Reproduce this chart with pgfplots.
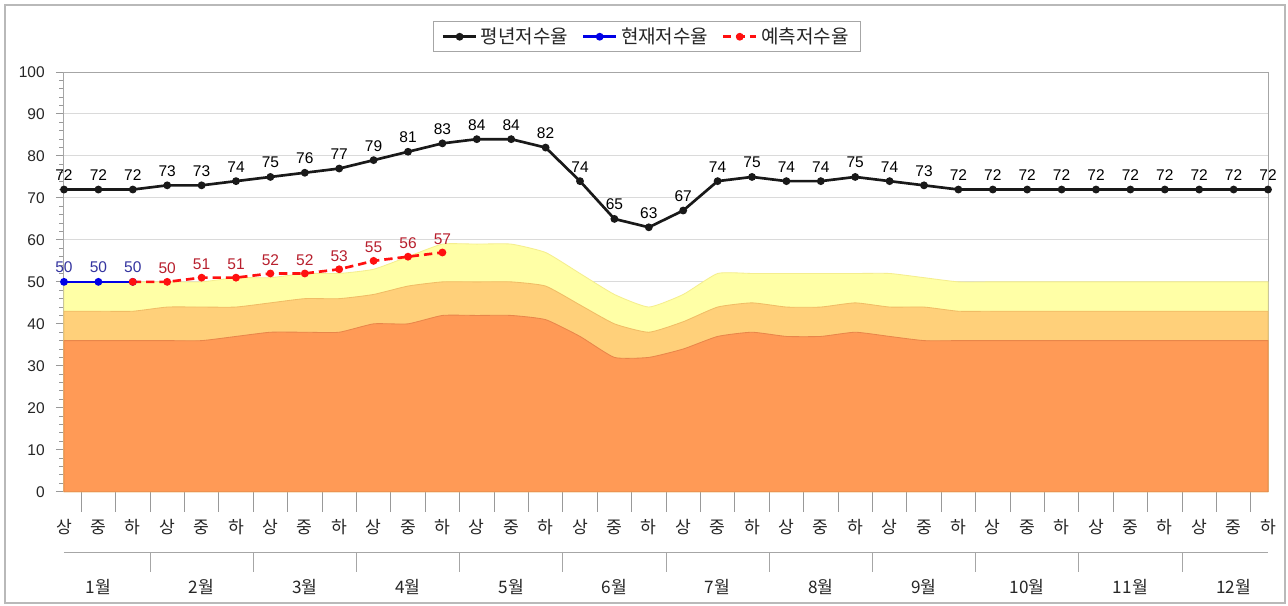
\documentclass[border=0pt]{standalone}
\usepackage{fontspec}
\setmainfont{Liberation Sans}
\newfontfamily\kr{Noto Sans CJK KR}
\usepackage{pgfplots}
\pgfplotsset{compat=1.18}
\definecolor{cOrange}{HTML}{FF9A56}
\definecolor{cOrangeE}{HTML}{E8864A}
\definecolor{cMid}{HTML}{FFD07A}
\definecolor{cMidE}{HTML}{F0BC66}
\definecolor{cYel}{HTML}{FFFFA6}
\definecolor{cYelE}{HTML}{F5EE8E}
\definecolor{cGrid}{HTML}{DADADA}
\definecolor{cBlueLab}{HTML}{3535A0}
\definecolor{cRedLab}{HTML}{B8202E}
\definecolor{cBlue}{HTML}{0000E6}
\definecolor{cRed}{HTML}{FF1010}
\pgfplotsset{/pgf/number format/assume math mode=true}
\begin{document}
\begin{tikzpicture}
\useasboundingbox (0,0) rectangle (772.8pt,363.6pt);
\fill[white] (0,0) rectangle (772.8pt,363.6pt);
\draw[gray!55, line width=0.8pt] (3pt,1.8pt) rectangle (771pt,360.6pt);
\begin{axis}[
  at={(38.4pt,68.58pt)}, anchor=origin,
  scale only axis, width=722.4pt, height=251.8pt,
  xmin=0, xmax=35, ymin=0, ymax=100,
  clip=false,
  axis line style={gray!70, line width=0.6pt},
  ytick={0,10,...,100}, minor y tick num=4,
  ytick align=outside, ytick pos=left,
  major tick length=4.8pt, minor tick length=2.8pt,
  tick style={gray!80, line width=0.6pt},
  ymajorgrids, major grid style={cGrid, line width=0.6pt},
  yticklabel style={font=\fontsize{9.3}{10}\selectfont, text=black!85, anchor=east, inner sep=0pt, xshift=-6.6pt},
  xtick={0,...,35},
  xticklabels={상,중,하,상,중,하,상,중,하,상,중,하,상,중,하,상,중,하,상,중,하,상,중,하,상,중,하,상,중,하,상,중,하,상,중,하},
  xticklabel style={font=\kr\fontsize{10.3}{12}\selectfont, text=black!85, anchor=center, inner sep=0pt, yshift=-21.2pt},
  xtick style={draw=none},
  xtick pos=bottom,
  extra x ticks={0.5,1.5,...,34.5}, extra x tick labels={},
  extra x tick style={xtick align=outside, major tick length=12pt, xtick style={draw=gray!80, line width=0.6pt}, grid=none},
  legend columns=3,
  legend style={at={(0.484,1)}, anchor=south, yshift=12pt, draw=gray!70, fill=white,
    font=\kr\fontsize{11.4}{13}\selectfont, text=black!85, inner xsep=5pt, inner ysep=1.5pt,
    /tikz/every even column/.append style={column sep=6pt}},
  legend image code/.code={\draw[mark repeat=2,mark phase=2,#1] plot coordinates {(0pt,0pt) (10pt,0pt) (20pt,0pt)};},
  every node near coord/.append style={font=\fontsize{9.3}{10}\selectfont, anchor=south, inner sep=0pt, yshift=4.5pt},
]
% threshold areas
\addplot[fill=cYel, draw=cYelE, line width=0.5pt, smooth, tension=0.3, forget plot] coordinates {
(0,50)(1,50)(2,50)(3,50)(4,50)(5,51)(6,51)(7,52)(8,52)(9,53)(10,56)(11,59)
(12,59)(13,59)(14,57)(15,52)(16,47)(17,44)(18,47)(19,52)(20,52)(21,52)(22,52)(23,52)
(24,52)(25,51)(26,50)(27,50)(28,50)(29,50)(30,50)(31,50)(32,50)(33,50)(34,50)(35,50)} \closedcycle;
\addplot[fill=cMid, draw=cMidE, line width=0.5pt, smooth, tension=0.3, forget plot] coordinates {
(0,43)(1,43)(2,43)(3,44)(4,44)(5,44)(6,45)(7,46)(8,46)(9,47)(10,49)(11,50)
(12,50)(13,50)(14,49)(15,44.5)(16,40)(17,38)(18,40.5)(19,44)(20,45)(21,44)(22,44)(23,45)
(24,44)(25,44)(26,43)(27,43)(28,43)(29,43)(30,43)(31,43)(32,43)(33,43)(34,43)(35,43)} \closedcycle;
\addplot[fill=cOrange, draw=cOrangeE, line width=0.5pt, smooth, tension=0.3, forget plot] coordinates {
(0,36)(1,36)(2,36)(3,36)(4,36)(5,37)(6,38)(7,38)(8,38)(9,40)(10,40)(11,42)
(12,42)(13,42)(14,41)(15,37)(16,32)(17,32)(18,34)(19,37)(20,38)(21,37)(22,37)(23,38)
(24,37)(25,36)(26,36)(27,36)(28,36)(29,36)(30,36)(31,36)(32,36)(33,36)(34,36)(35,36)} \closedcycle;
% average
\addplot[color=black!90, line width=1.6pt, mark=*, mark size=1.5pt,
  nodes near coords, every node near coord/.append style={text=black}] coordinates {
(0,72)(1,72)(2,72)(3,73)(4,73)(5,74)(6,75)(7,76)(8,77)(9,79)(10,81)(11,83)
(12,84)(13,84)(14,82)(15,74)(16,65)(17,63)(18,67)(19,74)(20,75)(21,74)(22,74)(23,75)
(24,74)(25,73)(26,72)(27,72)(28,72)(29,72)(30,72)(31,72)(32,72)(33,72)(34,72)(35,72)};
\addlegendentry{평년저수율}
% current
\addplot[color=cBlue, line width=1.6pt, mark=*, mark size=1.5pt,
  nodes near coords, every node near coord/.append style={text=cBlueLab}] coordinates {
(0,50)(1,50)(2,50)};
\addlegendentry{현재저수율}
% forecast
\addplot[color=cRed, line width=1.6pt, dash pattern=on 5pt off 3pt, mark=*, mark size=1.5pt, mark options={solid}] coordinates {
(2,50)(3,50)(4,51)(5,51)(6,52)(7,52)(8,53)(9,55)(10,56)(11,57)};
\addlegendentry{예측저수율}
\addplot[draw=none, mark=none, forget plot, nodes near coords, every node near coord/.append style={text=cRedLab}] coordinates {
(3,50)(4,51)(5,51)(6,52)(7,52)(8,53)(9,55)(10,56)(11,57)};
% month grouping row
\draw[gray!70, line width=0.6pt] ([yshift=-36.2pt]axis cs:0,0) -- ([yshift=-36.2pt]axis cs:35,0);
\pgfplotsinvokeforeach{2.5,5.5,8.5,11.5,14.5,17.5,20.5,23.5,26.5,29.5,32.5}{
  \draw[gray!70, line width=0.6pt] ([yshift=-36.2pt]axis cs:#1,0) -- ([yshift=-48.2pt]axis cs:#1,0);
}
\begin{scope}[every node/.style={font=\kr\fontsize{10.3}{12}\selectfont, text=black!85, inner sep=0pt}]
\node at ([yshift=-57.2pt]axis cs:1,0) {1월};
\node at ([yshift=-57.2pt]axis cs:4,0) {2월};
\node at ([yshift=-57.2pt]axis cs:7,0) {3월};
\node at ([yshift=-57.2pt]axis cs:10,0) {4월};
\node at ([yshift=-57.2pt]axis cs:13,0) {5월};
\node at ([yshift=-57.2pt]axis cs:16,0) {6월};
\node at ([yshift=-57.2pt]axis cs:19,0) {7월};
\node at ([yshift=-57.2pt]axis cs:22,0) {8월};
\node at ([yshift=-57.2pt]axis cs:25,0) {9월};
\node at ([yshift=-57.2pt]axis cs:28,0) {10월};
\node at ([yshift=-57.2pt]axis cs:31,0) {11월};
\node at ([yshift=-57.2pt]axis cs:34,0) {12월};
\end{scope}
\end{axis}
\end{tikzpicture}
\end{document}
